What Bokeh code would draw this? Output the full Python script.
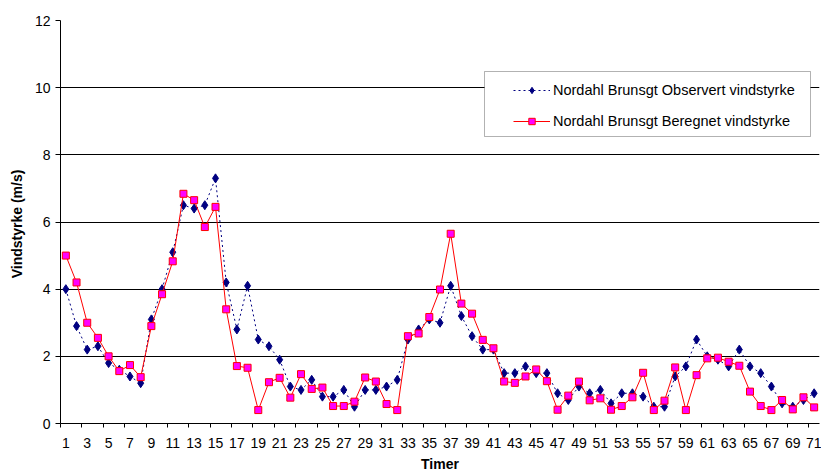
from bokeh.plotting import figure
from bokeh.models import (ColumnDataSource, Range1d, FixedTicker, Legend, LegendItem,
                          BoxAnnotation)
from bokeh.embed import file_html
from bokeh.resources import INLINE

# ---- data ----
hours = list(range(1, 72))
observert = [4.0, 2.9, 2.2, 2.3, 1.8, 1.6, 1.4, 1.2, 3.1, 4.0,
             5.1, 6.5, 6.4, 6.5, 7.3, 4.2, 2.8, 4.1, 2.5, 2.3,
             1.9, 1.1, 1.0, 1.3, 0.8, 0.8, 1.0, 0.5, 1.0, 1.0,
             1.1, 1.3, 2.5, 2.8, 3.1, 3.0, 4.1, 3.2, 2.6, 2.2,
             2.2, 1.5, 1.5, 1.7, 1.5, 1.5, 0.9, 0.7, 1.1, 0.9,
             1.0, 0.6, 0.9, 0.9, 0.8, 0.5, 0.5, 1.4, 1.7, 2.5,
             2.0, 1.9, 1.7, 2.2, 1.7, 1.5, 1.1, 0.6, 0.5, 0.7,
             0.9]
beregnet = [5.0, 4.2, 3.0, 2.55, 2.0, 1.56, 1.74, 1.38, 2.9, 3.85,
            4.83, 6.84, 6.65, 5.85, 6.45, 3.4, 1.71, 1.66, 0.4, 1.23,
            1.36, 0.77, 1.47, 1.03, 1.07, 0.52, 0.52, 0.65, 1.37, 1.25,
            0.58, 0.4, 2.6, 2.68, 3.17, 3.99, 5.65, 3.57, 3.27, 2.49,
            2.24, 1.25, 1.21, 1.4, 1.61, 1.26, 0.41, 0.83, 1.25, 0.69,
            0.75, 0.41, 0.52, 0.78, 1.51, 0.4, 0.68, 1.67, 0.4, 1.44,
            1.94, 1.96, 1.84, 1.72, 0.95, 0.52, 0.4, 0.7, 0.42, 0.78,
            0.48]
y_ticks = [0, 2, 4, 6, 8, 10, 12]
x_tick_labels = [h for h in hours if h % 2 == 1]
x_tick_marks = [h - 0.5 for h in hours if h % 2 == 1]
series_names = ["Nordahl Brunsgt Observert vindstyrke",
                "Nordahl Brunsgt Beregnet vindstyrke"]

FONT = "Liberation Sans"
FS = "14px"

src = ColumnDataSource(dict(hour=hours, obs=observert, ber=beregnet))

p = figure(width=821, height=474, output_backend="svg", toolbar_location=None,
           x_range=Range1d(0.5, len(hours) + 0.5), y_range=Range1d(0, 12),
           min_border_left=60, min_border_right=2, min_border_top=20,
           min_border_bottom=49)
p.outline_line_color = None
p.background_fill_color = "white"
p.border_fill_color = "white"

# grid
p.xgrid.grid_line_color = None
p.ygrid.grid_line_color = "#000000"
p.ygrid.grid_line_width = 1
p.ygrid.ticker = FixedTicker(ticks=y_ticks)

# y axis
ya = p.yaxis[0]
ya.ticker = FixedTicker(ticks=y_ticks)
ya.axis_line_color = "#000000"
ya.major_tick_line_color = "#000000"
ya.major_tick_in = 0
ya.major_tick_out = 5
ya.minor_tick_line_color = None
ya.major_label_standoff = 5
ya.major_label_text_font = FONT
ya.major_label_text_font_size = FS
ya.major_label_text_color = "#000000"
ya.axis_label = "Vindstyrke  (m/s)"
ya.axis_label_text_font = FONT
ya.axis_label_text_font_size = FS
ya.axis_label_text_font_style = "bold"
ya.axis_label_text_color = "#000000"
ya.axis_label_standoff = 7

# x axis
xa = p.xaxis[0]
xa.ticker = FixedTicker(ticks=x_tick_labels, minor_ticks=x_tick_marks)
xa.axis_line_color = "#000000"
xa.major_tick_line_color = None
xa.major_tick_in = 0
xa.major_tick_out = 0
xa.minor_tick_line_color = "#000000"
xa.minor_tick_in = 0
xa.minor_tick_out = 4
xa.major_label_standoff = 10
xa.major_label_text_font = FONT
xa.major_label_text_font_size = FS
xa.major_label_text_color = "#000000"
xa.axis_label = "Timer"
xa.axis_label_text_font = FONT
xa.axis_label_text_font_size = FS
xa.axis_label_text_font_style = "bold"
xa.axis_label_text_color = "#000000"
xa.axis_label_standoff = 5

# series
l1 = p.line("hour", "obs", source=src, line_color="#000080", line_width=1,
            line_dash="2 3")
m1 = p.scatter("hour", "obs", source=src, marker="diamond", size=9,
               fill_color="#000080", line_color="#000080")
l2 = p.line("hour", "ber", source=src, line_color="#FF0000", line_width=1)
m2 = p.scatter("hour", "ber", source=src, marker="square", size=7,
               fill_color="#FF00FF", line_color="#FF0000")

# legend box
box = BoxAnnotation(left=424, right=750, bottom=287, top=352,
                    left_units="screen", right_units="screen",
                    bottom_units="screen", top_units="screen",
                    fill_color="white", fill_alpha=1.0,
                    line_color="#000000", line_width=1)
p.add_layout(box)

legend = Legend(items=[LegendItem(label=series_names[0], renderers=[l1, m1]),
                       LegendItem(label=series_names[1], renderers=[l2, m2])],
                location=(453, 294), padding=0, spacing=15,
                glyph_width=37, glyph_height=16, label_height=16,
                label_standoff=3, border_line_color=None,
                background_fill_alpha=0.0,
                label_text_font=FONT, label_text_font_size="14.5px",
                label_text_color="#000000")
p.add_layout(legend, "center")

open("out.html", "w").write(file_html(p, INLINE))
